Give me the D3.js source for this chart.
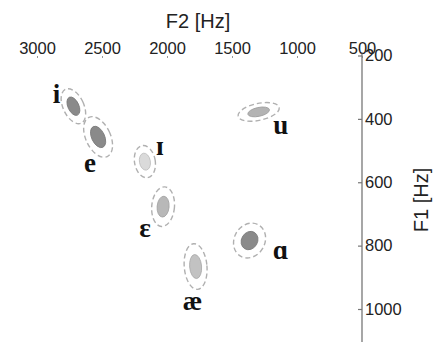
<!DOCTYPE html>
<html>
<head>
<meta charset="utf-8">
<script src="https://cdn.jsdelivr.net/npm/d3@7"></script>
<style>
  html, body { margin: 0; padding: 0; background: #fff; }
  svg { display: block; }
</style>
</head>
<body>
<svg id="chart" width="433" height="344"></svg>
<script>
// ---- data ----
const vowels = ["i", "e", "ɪ", "ɛ", "æ", "ɑ", "u"];
const f2Mean = [2720, 2530, 2170, 2030, 1780, 1365, 1295];   // Hz
const f1Mean = [360, 457, 535, 677, 866, 784, 378];          // Hz
const f2Spread = [42, 50, 42, 46, 46, 62, 85];                // Hz (1 SD, along F2)
const f1Spread = [31, 36, 27, 33, 38, 30, 14];                // Hz (1 SD, along F1)
const tilt = [-25, -25, -10, 5, -5, 30, -12];                 // degrees
const f2Ticks = [3000, 2500, 2000, 1500, 1000, 500];
const f1Ticks = [200, 400, 600, 800, 1000];

// ---- styling (not data) ----
const fills = ["#8a8a8a", "#8a8a8a", "#dadada", "#b8b8b8", "#c2c2c2", "#8a8a8a", "#b3b3b3"];
const labelOffset = [[-17, -3], [-8, 35], [15, -7], [-18, 30], [-3, 43], [31, 18], [22, 22]];

const svg = d3.select("#chart");
const W = 433, H = 344;

const x = d3.scaleLinear().domain([3000, 500]).range([37, 362]);
const y = d3.scaleLinear().domain([200, 1000]).range([55.5, 309]);

// top axis (no line, tiny ticks)
const gx = svg.append("g").attr("transform", "translate(0,56)")
  .call(d3.axisTop(x).tickValues(f2Ticks).tickFormat(d3.format("d")).tickSizeInner(-2).tickSizeOuter(0).tickPadding(3));
gx.select(".domain").remove();
gx.selectAll(".tick line").attr("stroke", "#999");
gx.selectAll(".tick text").attr("font-family", "Liberation Sans, Arial, sans-serif")
  .attr("font-size", 16.5).attr("fill", "#222").attr("y", -2);

svg.append("text")
  .attr("x", 198).attr("y", 28)
  .attr("text-anchor", "middle")
  .attr("font-family", "Liberation Sans, Arial, sans-serif")
  .attr("font-size", 20).attr("fill", "#222")
  .text("F2 [Hz]");

// right axis
const axisX = x(500);
svg.append("line")
  .attr("x1", axisX).attr("x2", axisX)
  .attr("y1", y(200) - 2).attr("y2", H - 2)
  .attr("stroke", "#777").attr("stroke-width", 1.3);

const gy = svg.append("g").attr("transform", `translate(${axisX},0)`)
  .call(d3.axisRight(y).tickValues(f1Ticks).tickFormat(d3.format("d")).tickSizeInner(-4).tickSizeOuter(0).tickPadding(3));
gy.select(".domain").remove();
gy.selectAll(".tick line").attr("stroke", "#777").attr("stroke-width", 1.2);
gy.selectAll(".tick text").attr("font-family", "Liberation Sans, Arial, sans-serif")
  .attr("font-size", 16.5).attr("fill", "#222");

svg.append("text")
  .attr("transform", "translate(428,200) rotate(-90)")
  .attr("text-anchor", "middle")
  .attr("font-family", "Liberation Sans, Arial, sans-serif")
  .attr("font-size", 20).attr("fill", "#222")
  .text("F1 [Hz]");

// ellipses
const data = vowels.map((v, i) => ({
  v, f2: f2Mean[i], f1: f1Mean[i], s2: f2Spread[i], s1: f1Spread[i], t: tilt[i],
  fill: fills[i], off: labelOffset[i]
}));

const g = svg.append("g");
const items = g.selectAll("g.vowel").data(data).join("g").attr("class", "vowel")
  .attr("transform", d => `translate(${x(d.f2)},${y(d.f1)})`);

items.append("ellipse")
  .attr("transform", d => `rotate(${d.t})`)
  .attr("rx", d => Math.abs(x(d.f2 + d.s2) - x(d.f2)) * 1.9)
  .attr("ry", d => Math.abs(y(d.f1 + d.s1) - y(d.f1)) * 1.9)
  .attr("fill", "none").attr("stroke", "#b0b0b0").attr("stroke-width", 1.4)
  .attr("stroke-dasharray", "5,3");

items.append("ellipse")
  .attr("transform", d => `rotate(${d.t})`)
  .attr("rx", d => Math.abs(x(d.f2 + d.s2) - x(d.f2)))
  .attr("ry", d => Math.abs(y(d.f1 + d.s1) - y(d.f1)))
  .attr("fill", d => d.fill)
  .attr("stroke", d => d3.color(d.fill).darker(0.4)).attr("stroke-width", 0.8);

items.append("text")
  .attr("x", d => d.off[0]).attr("y", d => d.off[1])
  .attr("text-anchor", "middle")
  .attr("font-family", "Liberation Serif, Times New Roman, DejaVu Serif, serif")
  .attr("font-size", 27).attr("font-weight", "bold").attr("fill", "#111")
  .text(d => d.v);
</script>
</body>
</html>
